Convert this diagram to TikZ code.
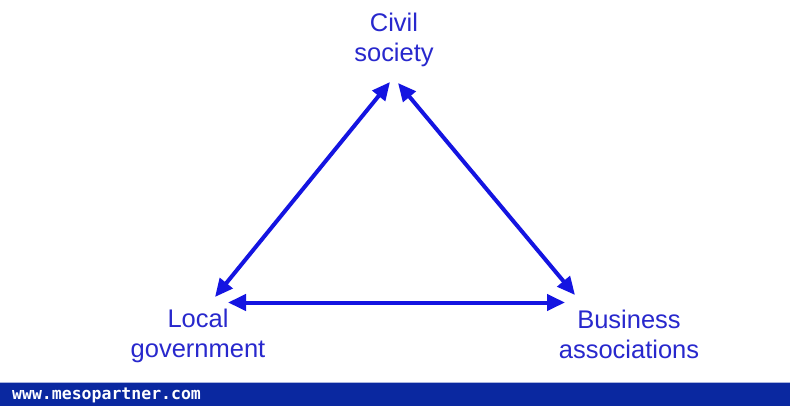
\documentclass[tikz,border=0pt]{standalone}
\usepackage{fontspec}
\setmainfont{Liberation Sans}
\newfontfamily\barfont{DejaVu Sans Mono}
\usetikzlibrary{arrows.meta}
\definecolor{txtblue}{RGB}{40,40,205}
\definecolor{arrblue}{RGB}{20,20,225}
\definecolor{barblue}{RGB}{10,40,160}
\begin{document}
\begin{tikzpicture}[x=1pt,y=-1pt,
  lbl/.style={text=txtblue,font=\fontsize{25.5}{30}\selectfont,inner sep=0pt,align=center,anchor=base},
  conn/.style={draw=arrblue,line width=4pt,{Triangle[length=18pt,width=16pt]}-{Triangle[length=18pt,width=16pt]}}]
\useasboundingbox (0,0) rectangle (790,406);
\fill[white] (0,0) rectangle (790,406);
\fill[barblue] (0,382) rectangle (790,406);
\draw[white!65!barblue,line width=0.8pt] (0,382) -- (790,382);
\node[anchor=base west,text=white,font=\barfont\bfseries\fontsize{16.5}{18}\selectfont,inner sep=0pt] (url) at (12,399) {www.mesopartner.com};
\node[lbl] (civil) at (394,62) {Civil\\society};
\node[lbl] (local) at (198,357) {Local\\government};
\node[lbl] (biz) at (629,358) {Business\\associations};
\coordinate (c1) at (390,82);
\coordinate (c2) at (398,83);
\coordinate (l1) at (215,297);
\coordinate (l2) at (228,302.5);
\coordinate (b1) at (575,295);
\coordinate (b2) at (565,302.5);
\draw[conn] (l1) -- (c1);
\draw[conn] (c2) -- (b1);
\draw[conn] (l2) -- (b2);
\end{tikzpicture}
\end{document}
